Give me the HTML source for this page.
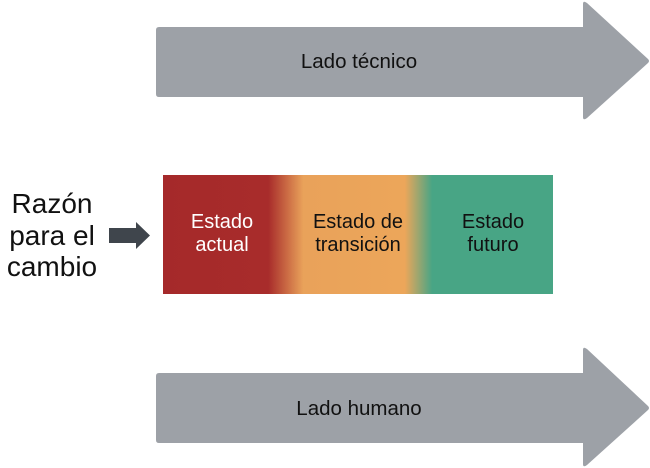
<!DOCTYPE html>
<html><head><meta charset="utf-8"><style>
html,body{margin:0;padding:0;background:#fff;width:650px;height:468px;overflow:hidden}
</style></head><body>
<svg width="650" height="468" viewBox="0 0 650 468" xmlns="http://www.w3.org/2000/svg" font-family="Liberation Sans, DejaVu Sans, sans-serif">
<defs>
<linearGradient id="g" x1="163" x2="553" y1="0" y2="0" gradientUnits="userSpaceOnUse">
<stop offset="0" stop-color="#a5292a"/>
<stop offset="0.27" stop-color="#a82c2b"/>
<stop offset="0.36" stop-color="#e9a25a"/>
<stop offset="0.62" stop-color="#eca65a"/>
<stop offset="0.69" stop-color="#48a585"/>
<stop offset="1" stop-color="#48a585"/>
</linearGradient>
</defs>
<path d="M159,27 L583,27 L583,4 Q583,0 587,3 L648,59 Q650,61 648,63 L587,118 Q583,121 583,117 L583,97 L159,97 Q156,97 156,94 L156,30 Q156,27 159,27 Z" fill="#9da1a7"/>
<text x="359" y="68" font-size="20.5" text-anchor="middle" fill="#111">Lado técnico</text>
<path d="M159,373 L583,373 L583,350 Q583,346 587,349 L648,406 Q650,408 648,410 L587,465 Q583,468 583,464 L583,443 L159,443 Q156,443 156,440 L156,376 Q156,373 159,373 Z" fill="#9da1a7"/>
<text x="359" y="415" font-size="20.5" text-anchor="middle" fill="#111">Lado humano</text>
<rect x="163" y="175" width="390" height="119" fill="url(#g)"/>
<text x="222" y="228" font-size="20" text-anchor="middle" fill="#fff">Estado</text>
<text x="222" y="251" font-size="20" text-anchor="middle" fill="#fff">actual</text>
<text x="358" y="228" font-size="20" text-anchor="middle" fill="#111">Estado de</text>
<text x="358" y="251" font-size="20" text-anchor="middle" fill="#111">transición</text>
<text x="493" y="228" font-size="20" text-anchor="middle" fill="#111">Estado</text>
<text x="493" y="251" font-size="20" text-anchor="middle" fill="#111">futuro</text>
<path d="M109,228 L136,228 L136,222 L150,235.5 L136,249 L136,243 L109,243 Z" fill="#3f454c"/>
<text x="52" y="213" font-size="28" text-anchor="middle" fill="#111">Razón</text>
<text x="52" y="245" font-size="28" text-anchor="middle" fill="#111">para el</text>
<text x="52" y="276" font-size="28" text-anchor="middle" fill="#111">cambio</text>
</svg>
</body></html>
